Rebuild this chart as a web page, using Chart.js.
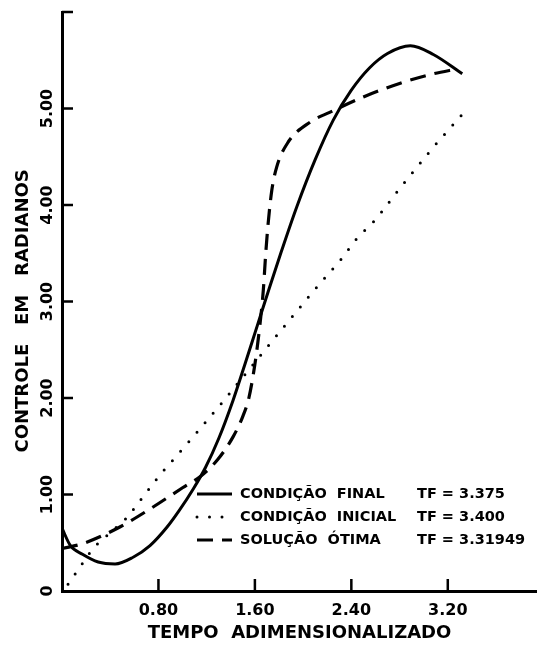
<!DOCTYPE html>
<html>
<head>
<meta charset="utf-8">
<script src="https://cdn.jsdelivr.net/npm/chart.js@4.4.0/dist/chart.umd.min.js"></script>
<style>
  html, body { margin: 0; padding: 0; background: #fff; }
  canvas { display: block; }
</style>
</head>
<body>
<canvas id="myChart" width="537" height="645"></canvas>
<script>
// valores: tempo adimensionalizado (x) e controle em radianos (y)
var finalT = [0, 0.07, 0.17, 0.30, 0.44, 0.59, 0.73, 0.87, 0.97, 1.09, 1.19, 1.30, 1.42, 1.52, 1.62, 1.72, 1.82, 1.95, 2.10, 2.25, 2.40, 2.55, 2.70, 2.89, 3.08, 3.32];
var finalU = [0.65, 0.47, 0.38, 0.30, 0.28, 0.35, 0.47, 0.66, 0.83, 1.06, 1.28, 1.58, 1.98, 2.36, 2.75, 3.14, 3.52, 3.99, 4.47, 4.88, 5.19, 5.42, 5.57, 5.65, 5.56, 5.36];

var inicialT = [0.05, 0.26, 0.54, 0.81, 1.09, 1.34, 1.75, 2.08, 2.31, 2.45, 2.61, 2.80, 3.08, 3.37];
var inicialU = [0.07, 0.45, 0.76, 1.20, 1.60, 1.97, 2.60, 3.10, 3.43, 3.66, 3.86, 4.17, 4.60, 5.01];

var otimaT = [0, 0.17, 0.46, 0.73, 1.00, 1.15, 1.29, 1.42, 1.50, 1.55, 1.60, 1.64, 1.67, 1.69, 1.71, 1.74, 1.78, 1.87, 2.06, 2.22, 2.50, 2.80, 3.08, 3.28];
var otimaU = [0.44, 0.49, 0.65, 0.85, 1.07, 1.19, 1.36, 1.60, 1.81, 2.00, 2.35, 2.74, 3.12, 3.50, 3.81, 4.15, 4.39, 4.64, 4.86, 4.96, 5.12, 5.26, 5.36, 5.41];

var seriesNames = ["CONDIÇÃO  FINAL", "CONDIÇÃO  INICIAL", "SOLUÇÃO  ÓTIMA"];
var tfLabels = ["TF = 3.375", "TF = 3.400", "TF = 3.31949"];

var FONT = "'DejaVu Sans', sans-serif";

function toPoints(xs, ys) {
  var pts = [];
  for (var i = 0; i < xs.length; i++) pts.push({ x: xs[i], y: ys[i] });
  return pts;
}

// tick marks drawn inward, like the original
var inTicks = {
  id: "inTicks",
  afterDraw: function (c) {
    var ctx = c.ctx;
    var xs = c.scales.x, ys = c.scales.y;
    var area = c.chartArea;
    ctx.save();
    ctx.strokeStyle = "#000";
    ctx.lineWidth = 2.5;
    ctx.beginPath();
    xs.ticks.forEach(function (t) {
      if (t.value === 0) return;
      var px = xs.getPixelForValue(t.value);
      ctx.moveTo(px, area.bottom);
      ctx.lineTo(px, area.bottom - 12);
    });
    ys.ticks.forEach(function (t) {
      if (t.value === 0) return;
      var py = ys.getPixelForValue(t.value);
      ctx.moveTo(area.left, py);
      ctx.lineTo(area.left + 11, py);
    });
    ctx.stroke();
    ctx.restore();
  }
};

// legenda em tabela: amostra, nome, TF
var tabLegend = {
  id: "tabLegend",
  afterDraw: function (c) {
    var ctx = c.ctx;
    ctx.save();
    c.data.datasets.forEach(function (ds, i) {
      var y = 494 + i * 23;
      ctx.strokeStyle = "#000";
      ctx.lineWidth = ds.borderWidth;
      ctx.lineCap = ds.borderCapStyle || "butt";
      ctx.setLineDash(ds.borderDash || []);
      ctx.beginPath();
      ctx.moveTo(197, y);
      ctx.lineTo(232, y);
      ctx.stroke();
      ctx.setLineDash([]);
      ctx.fillStyle = "#000";
      ctx.font = "bold 14.5px " + FONT;
      ctx.textBaseline = "middle";
      ctx.fillText(ds.label, 240, y);
      ctx.fillText(tfLabels[i], 417, y);
    });
    ctx.restore();
  }
};

var chart = new Chart(document.getElementById("myChart").getContext("2d"), {
  type: "scatter",
  data: {
    datasets: [
      {
        label: seriesNames[0],
        data: toPoints(finalT, finalU),
        showLine: true,
        borderColor: "#000",
        borderWidth: 3,
        pointRadius: 0,
        cubicInterpolationMode: "monotone",
      },
      {
        label: seriesNames[1],
        data: toPoints(inicialT, inicialU),
        showLine: true,
        borderColor: "#000",
        borderWidth: 3,
        borderDash: [0, 12.5],
        borderCapStyle: "round",
        pointRadius: 0,
        tension: 0,
      },
      {
        label: seriesNames[2],
        data: toPoints(otimaT, otimaU),
        showLine: true,
        borderColor: "#000",
        borderWidth: 3.2,
        borderDash: [16, 9],
        pointRadius: 0,
        cubicInterpolationMode: "monotone",
      },
    ],
  },
  options: {
    responsive: false,
    animation: false,
    layout: { padding: { left: 0, right: 0, top: 12, bottom: 0 } },
    plugins: {
      legend: { display: false },
      tooltip: { enabled: false },
    },
    scales: {
      x: {
        type: "linear",
        min: 0,
        max: 3.94,
        border: { color: "#000", width: 3 },
        grid: { drawOnChartArea: false, drawTicks: false },
        ticks: {
          stepSize: 0.8,
          includeBounds: false,
          padding: 10,
          color: "#000",
          font: { family: FONT, size: 16, weight: "bold" },
          callback: function (v) {
            return v === 0 ? "" : Number(v).toFixed(2);
          },
        },
        title: {
          display: true,
          text: "TEMPO  ADIMENSIONALIZADO",
          color: "#000",
          font: { family: FONT, size: 18, weight: "bold" },
          padding: { top: 0, bottom: 1 },
        },
        afterFit: function (s) {
          s.height = 54;
        },
      },
      y: {
        min: 0,
        max: 6,
        border: { color: "#000", width: 3 },
        grid: { drawOnChartArea: false, drawTicks: false },
        ticks: {
          stepSize: 1,
          minRotation: 90,
          maxRotation: 90,
          crossAlign: "center",
          padding: -6,
          color: "#000",
          font: { family: FONT, size: 16, weight: "bold" },
          callback: function (v) {
            if (v === 6) return "";
            return v === 0 ? "0" : Number(v).toFixed(2);
          },
        },
        title: {
          display: true,
          text: "CONTROLE   EM   RADIANOS   ",
          color: "#000",
          font: { family: FONT, size: 18, weight: "bold" },
          padding: { top: 13, bottom: 0 },
        },
        afterFit: function (s) {
          s.width = 62;
        },
      },
    },
  },
  plugins: [inTicks, tabLegend],
});
</script>
</body>
</html>
